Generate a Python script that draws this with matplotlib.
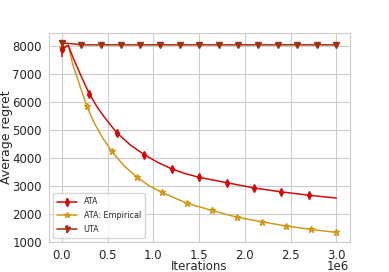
import matplotlib
matplotlib.use("Agg")
import matplotlib.pyplot as plt
import numpy as np
import seaborn as sns

sns.set_style("whitegrid")

# ATA, x in units of 1e6 iterations
ata_x = [0.0, 0.07, 0.12, 0.2, 0.3, 0.38, 0.45, 0.6, 0.75, 0.9, 1.05, 1.2, 1.35,
         1.5, 1.8, 2.1, 2.4, 2.7, 3.0]
ata_y = [7900, 8020, 7600, 7000, 6290, 5850, 5520, 4900, 4460, 4120, 3840, 3610, 3440,
         3310, 3120, 2930, 2790, 2670, 2570]
ata_err = [290, 0, 0, 0, 90, 0, 0, 90, 0, 80, 0, 70, 0, 70, 70, 70, 70, 70, 0]
ata_marks = [0, 4, 7, 9, 11, 13, 14, 15, 16, 17]

# ATA: Empirical
emp_x = [0.0, 0.07, 0.12, 0.2, 0.273, 0.35, 0.45, 0.545, 0.68, 0.818, 0.95, 1.091,
         1.364, 1.636, 1.909, 2.182, 2.455, 2.727, 3.0]
emp_y = [7930, 8020, 7330, 6550, 5850, 5270, 4700, 4240, 3720, 3320, 3020, 2775,
         2390, 2130, 1890, 1725, 1570, 1450, 1345]
emp_marks = [0, 4, 7, 9, 11, 12, 13, 14, 15, 16, 17, 18]

# UTA
uta_x = [0.0, 0.214, 0.429, 0.643, 0.857, 1.071, 1.286, 1.5, 1.714, 1.929,
         2.143, 2.357, 2.571, 2.786, 3.0]
uta_y = [8110, 8035, 8035, 8035, 8035, 8035, 8035, 8035, 8035, 8035,
         8035, 8035, 8035, 8035, 8035]
uta_err = [60, 20, 20, 20, 20, 20, 20, 20, 20, 20, 20, 20, 20, 20, 20]

fig = plt.figure(figsize=(3.89, 2.72), dpi=100)
ax = fig.add_axes([0.126, 0.11, 0.774, 0.769])

ax.errorbar(np.array(ata_x) * 1e6, ata_y, yerr=ata_err, color="#d10a0a",
            marker="d", markersize=4, markevery=ata_marks, linewidth=1.1,
            elinewidth=1.1, label="ATA", zorder=3)
ax.errorbar(np.array(emp_x) * 1e6, emp_y, yerr=None, color="#cf9a1c",
            marker="*", markersize=4.5, markevery=emp_marks, linewidth=1.1,
            label="ATA: Empirical", zorder=2)
ax.errorbar(np.array(uta_x) * 1e6, uta_y, yerr=uta_err, color="#a3300f",
            marker="v", markersize=4, linewidth=1.1, elinewidth=1.1,
            label="UTA", zorder=4)

ax.set_ylim(1000, 8460)
ax.set_xlim(-0.14e6, 3.15e6)
ax.set_xlabel("Iterations", fontsize=8.5)
ax.set_ylabel("Average regret", fontsize=9)
ax.xaxis.set_label_coords(0.5, -0.087)
ax.yaxis.set_label_coords(-0.118, 0.5)
ax.tick_params(labelsize=8.5, pad=1.5)

# scale factor drawn as a text beside the x label
ax.xaxis.get_offset_text().set_visible(False)
ax.text(0.96, -0.087, "1e6", transform=ax.transAxes, fontsize=8.5,
        color="0.15", ha="center", va="top")

ax.legend(loc="lower left", fontsize=5.8, frameon=True, borderpad=0.5,
          handlelength=2.5, labelspacing=0.6, markerscale=0.9)

fig.savefig("out.png", dpi=100)
